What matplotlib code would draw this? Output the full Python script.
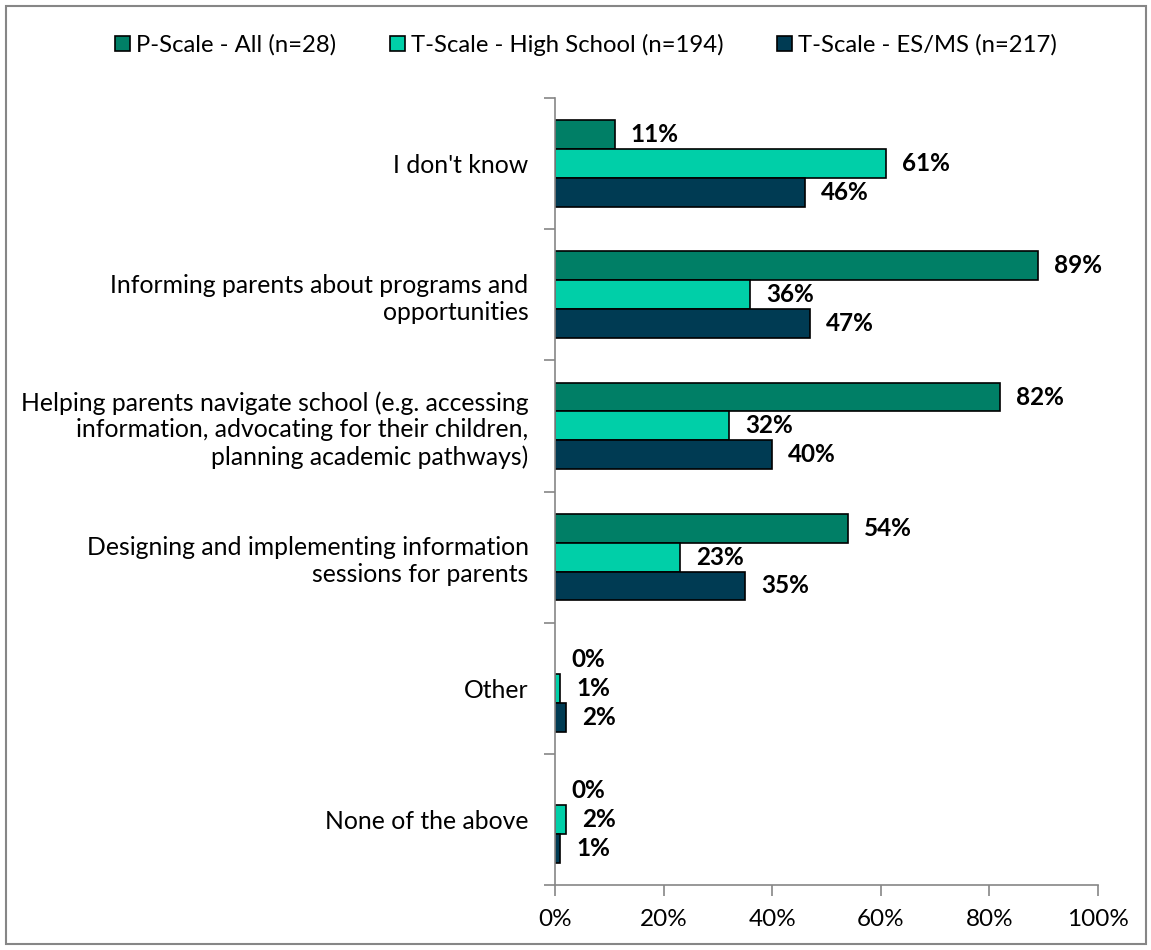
import matplotlib
matplotlib.use("Agg")
import matplotlib.pyplot as plt
from matplotlib.patches import Rectangle
import numpy as np

plt.rcParams["font.family"] = ["Lato", "DejaVu Sans"]

categories = [
    "I don't know",
    "Informing parents about programs and\nopportunities",
    "Helping parents navigate school (e.g. accessing\ninformation, advocating for their children,\nplanning academic pathways)",
    "Designing and implementing information\nsessions for parents",
    "Other",
    "None of the above",
]
series_names = [
    "P-Scale - All (n=28)",
    "T-Scale - High School (n=194)",
    "T-Scale - ES/MS (n=217)",
]
p_all = [11, 89, 82, 54, 0, 0]
t_high = [61, 36, 32, 23, 1, 2]
t_esms = [46, 47, 40, 35, 2, 1]
x_ticks = [0, 20, 40, 60, 80, 100]

colors = ["#007F66", "#00CFA8", "#003B53"]
grey = "#868686"

fig = plt.figure(figsize=(11.51, 9.5), dpi=100)
ax = fig.add_axes([555 / 1151, 1 - 885 / 950, 543 / 1151, 787 / 950])

y = np.arange(len(categories))
h = 0.22
offsets = [-h, 0, h]
for vals, name, col, off in zip([p_all, t_high, t_esms], series_names, colors, offsets):
    # zero-length bars get no outline
    widths = [1.2 if v > 0 else 0 for v in vals]
    bars = ax.barh(y + off, vals, height=h, color=col, edgecolor="black",
                   linewidth=widths, label=name)
    for b, v in zip(bars, vals):
        ax.annotate(f"{v}%", (b.get_width(), b.get_y() + b.get_height() / 2),
                    xytext=(16, 0), textcoords="offset pixels",
                    va="center", ha="left", fontsize=17.5, fontweight="bold")

ax.set_xlim(0, 100)
ax.set_ylim(len(categories) - 0.5, -0.5)
ax.set_xticks(x_ticks)
ax.set_xticklabels([f"{t}%" for t in x_ticks], fontsize=17.5)
ax.set_yticks(y)
ax.set_yticklabels(categories, fontsize=17.8, linespacing=1.2)
ax.set_yticks(np.arange(-0.5, len(categories)), minor=True)
ax.tick_params(axis="y", which="major", length=0, pad=19)
ax.tick_params(axis="y", which="minor", length=8, color=grey, width=1.2)
ax.tick_params(axis="x", length=8, color=grey, width=1.2, pad=9)
for side in ["top", "right"]:
    ax.spines[side].set_visible(False)
for side in ["left", "bottom"]:
    ax.spines[side].set_color(grey)
    ax.spines[side].set_linewidth(1.2)

fig.legend(loc="center", bbox_to_anchor=(586 / 1151, 1 - 45 / 950), ncol=3,
           frameon=False, fontsize=17.2, handlelength=0.63, handleheight=0.63,
           handletextpad=0.25, columnspacing=2.25, borderpad=0)

# outer chart border
fig.patches.append(Rectangle((6 / 1151, 6 / 950), 1140 / 1151, 938 / 950,
                             transform=fig.transFigure, fill=False,
                             edgecolor=grey, linewidth=1.5))

fig.savefig("out.png", dpi=100)
